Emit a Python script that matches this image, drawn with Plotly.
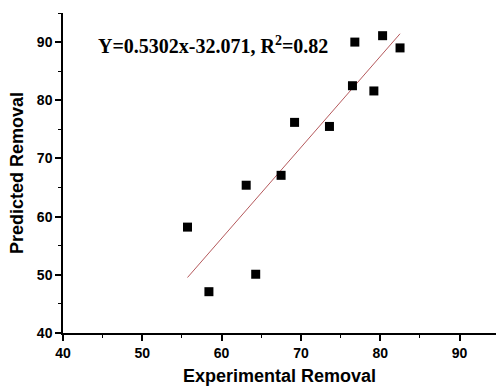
import numpy as np
import plotly.graph_objects as go

# Experimental vs. predicted removal
experimental = [55.7, 58.4, 64.3, 63.1, 67.5, 69.2, 73.6, 76.5, 76.8, 79.2, 80.3, 82.5]
predicted = [58.2, 47.1, 50.1, 65.4, 67.1, 76.2, 75.5, 82.5, 90.0, 81.6, 91.1, 89.0]

x_ticks = [40, 50, 60, 70, 80, 90]
y_ticks = [40, 50, 60, 70, 80, 90]
equation_text = "Y=0.5302x-32.071, R<sup>2</sup>=0.82"

# Least-squares line over the span of the data
xs = np.array(experimental)
ys = np.array(predicted)
slope, intercept = np.polyfit(xs, ys, 1)
fit_x = np.array([xs.min(), xs.max()])
fit_y = slope * fit_x + intercept

fig = go.Figure()
fig.add_trace(go.Scatter(
    x=fit_x, y=fit_y, mode="lines",
    line=dict(color="#b5595c", width=1),
    showlegend=False, hoverinfo="skip",
))
fig.add_trace(go.Scatter(
    x=experimental, y=predicted, mode="markers",
    marker=dict(symbol="square", size=9, color="black"),
    showlegend=False,
))

sans = "Liberation Sans, Arial"
axis_common = dict(
    showgrid=False, zeroline=False, automargin=False,
    showline=True, linecolor="black", linewidth=1.5,
    ticks="outside", ticklen=6, tickwidth=1.5, tickcolor="black",
    tickfont=dict(family=sans, size=14, color="black", weight="bold"),
    minor=dict(dtick=5, ticks="outside", ticklen=3, tickwidth=1.3, tickcolor="black", showgrid=False),
)

fig.update_xaxes(
    range=[40, 94.6], tickvals=x_ticks, **axis_common,
    title=dict(text="Experimental Removal", standoff=16,
               font=dict(family=sans, size=18, color="black", weight="bold")),
)
fig.update_yaxes(
    range=[40, 95], tickvals=y_ticks, **axis_common,
    title=dict(text="Predicted Removal", standoff=9,
               font=dict(family=sans, size=18, color="black", weight="bold")),
)

margin_l, margin_r, margin_t, margin_b = 63, 0, 13, 53
plot_w = 496 - margin_l - margin_r
plot_h = 386 - margin_t - margin_b

# equation label, positioned in pixels relative to the plot area
fig.add_annotation(
    x=(96 - margin_l) / plot_w, y=1 - (45 - margin_t) / plot_h,
    xref="paper", yref="paper", text=equation_text, showarrow=False,
    xanchor="left", yanchor="middle",
    font=dict(family="Liberation Serif, Times New Roman", size=20, color="black", weight="bold"),
)

fig.update_layout(
    width=496, height=386,
    margin=dict(l=margin_l, r=margin_r, t=margin_t, b=margin_b),
    plot_bgcolor="white", paper_bgcolor="white",
)

fig.write_html("out.html")
